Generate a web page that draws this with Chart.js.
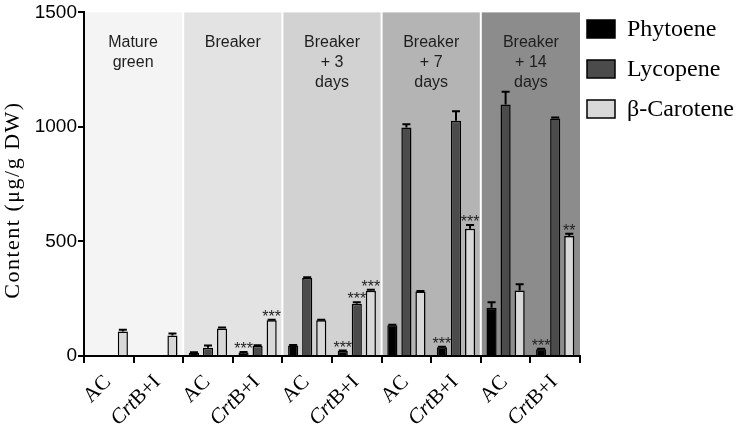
<!DOCTYPE html>
<html lang="en">
<head>
<meta charset="UTF-8">
<title>Carotenoid content</title>
<style>
    body { margin: 0; background: #fff; }
    #wrap { width: 740px; height: 437px; }
</style>
<script src="https://cdn.jsdelivr.net/npm/chart.js"></script>
</head>
<body>
<div id="wrap"><canvas id="chart" width="740" height="437"></canvas></div>
<script>
    // data (ug/g DW)
    const categories = ['AC', 'CrtB+I', 'AC', 'CrtB+I', 'AC', 'CrtB+I', 'AC', 'CrtB+I', 'AC', 'CrtB+I'];
    const stages = [['Mature', 'green'], ['Breaker'], ['Breaker', '+ 3', 'days'], ['Breaker', '+ 7', 'days'], ['Breaker', '+ 14', 'days']];
    const yTicks = [0, 500, 1000, 1500];
    const yTitle = 'Content (μg/g DW)';

    const phytoene = [0, 0, 14, 15, 46, 22, 134, 38, 211, 30];
    const phytoeneErr = [0, 0, 2, 2, 2, 2, 2, 2, 24, 2];
    const lycopene = [0, 0, 36, 45, 340, 228, 997, 1027, 1098, 1037];
    const lycopeneErr = [0, 0, 10, 2, 4, 7, 15, 42, 56, 4];
    const carotene = [107, 90, 120, 156, 156, 285, 282, 556, 286, 524];
    const caroteneErr = [8, 8, 4, 2, 2, 4, 2, 16, 27, 10];

    const phytoeneStars = ['', '', '', '***', '', '***', '', '***', '', '***'];
    const lycopeneStars = ['', '', '', '', '', '***', '', '', '', ''];
    const caroteneStars = ['', '', '', '***', '', '***', '', '***', '', '**'];

    const panelColors = ['#f4f4f4', '#e3e3e3', '#d2d2d2', '#b4b4b4', '#8c8c8c'];
    const serif = '"Liberation Serif", "Times New Roman", serif';
    const sans = '"Liberation Sans", Arial, sans-serif';

    const errs = [phytoeneErr, lycopeneErr, caroteneErr];
    const stars = [phytoeneStars, lycopeneStars, caroteneStars];

    const panels = {
        id: 'panels',
        beforeDraw(chart) {
            const ctx = chart.ctx, x = chart.scales.x, area = chart.chartArea;
            ctx.save();
            stages.forEach((lines, k) => {
                const l = k === 0 ? area.left : (x.getPixelForValue(2 * k) + x.getPixelForValue(2 * k - 1)) / 2 + 1;
                const r = k === stages.length - 1 ? area.right : (x.getPixelForValue(2 * k + 1) + x.getPixelForValue(2 * k + 2)) / 2 - 1;
                ctx.fillStyle = panelColors[k];
                ctx.fillRect(l, area.top, r - l, area.bottom - area.top);
                ctx.fillStyle = '#1e1e1e';
                ctx.font = '16px ' + sans;
                ctx.textAlign = 'center';
                ctx.textBaseline = 'middle';
                lines.forEach((t, j) => ctx.fillText(t, (l + r) / 2, 43 + j * 20));
            });
            ctx.restore();
        },
        afterDatasetsDraw(chart) {
            const ctx = chart.ctx, y = chart.scales.y;
            ctx.save();
            chart.data.datasets.forEach((ds, d) => {
                const meta = chart.getDatasetMeta(d);
                meta.data.forEach((bar, i) => {
                    let top = bar.y;
                    if (errs[d][i] > 0) {
                        const ey = y.getPixelForValue(ds.data[i] + errs[d][i]);
                        ctx.strokeStyle = '#000';
                        ctx.lineWidth = 2;
                        ctx.beginPath();
                        ctx.moveTo(bar.x, bar.y);
                        ctx.lineTo(bar.x, ey);
                        ctx.moveTo(bar.x - 4, ey);
                        ctx.lineTo(bar.x + 4, ey);
                        ctx.stroke();
                        top = ey;
                    }
                    if (stars[d][i]) {
                        ctx.fillStyle = '#222';
                        ctx.font = '16px ' + sans;
                        ctx.textAlign = 'center';
                        ctx.textBaseline = 'alphabetic';
                        ctx.fillText(stars[d][i], bar.x, top + 2);
                    }
                });
            });
            ctx.restore();
        },
        afterDraw(chart) {
            const ctx = chart.ctx, x = chart.scales.x;
            ctx.save();
            // rotated category labels, with italic "Crt"
            categories.forEach((lab, i) => {
                const px = x.getPixelForValue(i);
                ctx.save();
                ctx.translate(px - 1, 379);
                ctx.rotate(-Math.PI / 4);
                ctx.fillStyle = '#000';
                ctx.textBaseline = 'middle';
                ctx.textAlign = 'left';
                const parts = lab.startsWith('Crt') ? [['Crt', 'italic '], ['B+I', '']] : [[lab, '']];
                let w = 0;
                parts.forEach(p => { ctx.font = p[1] + '21px ' + serif; w += ctx.measureText(p[0]).width; });
                let cx = -w;
                parts.forEach(p => { ctx.font = p[1] + '21px ' + serif; ctx.fillText(p[0], cx, 0); cx += ctx.measureText(p[0]).width; });
                ctx.restore();
            });
            // y axis title
            ctx.save();
            ctx.translate(13, 200);
            ctx.rotate(-Math.PI / 2);
            ctx.fillStyle = '#000';
            ctx.font = '22px ' + serif;
            ctx.letterSpacing = '1.5px';
            ctx.textAlign = 'center';
            ctx.textBaseline = 'middle';
            ctx.fillText(yTitle, 0, 0);
            ctx.restore();
            // legend
            chart.data.datasets.forEach((ds, d) => {
                const cy = 29 + d * 40;
                ctx.fillStyle = ds.backgroundColor;
                ctx.fillRect(587, cy - 9, 28, 18);
                ctx.strokeStyle = '#000';
                ctx.lineWidth = 1.5;
                ctx.strokeRect(587, cy - 9, 28, 18);
                ctx.fillStyle = '#000';
                ctx.font = '24px ' + serif;
                ctx.textAlign = 'left';
                ctx.textBaseline = 'middle';
                ctx.fillText(ds.label, 627, cy + 1);
            });
            ctx.restore();
        }
    };

    const barStyle = { borderColor: '#000', borderWidth: 1.5, borderSkipped: 'bottom', categoryPercentage: 0.85, barPercentage: 0.72 };

    new Chart(document.getElementById('chart'), {
        type: 'bar',
        data: {
            labels: categories,
            datasets: [
                { label: 'Phytoene', data: phytoene, backgroundColor: '#000000', ...barStyle },
                { label: 'Lycopene', data: lycopene, backgroundColor: '#4b4b4b', ...barStyle },
                { label: 'β-Carotene', data: carotene, backgroundColor: '#d8d8d8', ...barStyle }
            ]
        },
        options: {
            responsive: false,
            animation: false,
            layout: { padding: { top: 10, right: 160, left: 0, bottom: 0 } },
            plugins: { legend: { display: false }, tooltip: { enabled: false } },
            scales: {
                x: {
                    grid: { drawOnChartArea: false, color: '#000', lineWidth: 2, tickLength: 7 },
                    border: { color: '#000', width: 2 },
                    ticks: { display: false },
                    afterFit(s) { s.height = 81; }
                },
                y: {
                    min: 0,
                    max: 1500,
                    afterBuildTicks(s) { s.ticks = yTicks.map(v => ({ value: v })); },
                    grid: { drawOnChartArea: false, color: '#000', lineWidth: 2, tickLength: 6 },
                    border: { color: '#000', width: 2 },
                    ticks: { color: '#000', font: { family: sans, size: 19 }, padding: 1, callback: v => String(v) },
                    afterFit(s) { s.width = 84; }
                }
            }
        },
        plugins: [panels]
    });
</script>
</body>
</html>
